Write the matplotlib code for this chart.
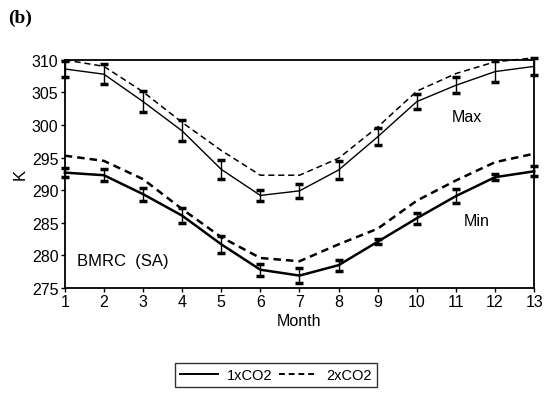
import numpy as np
import matplotlib
matplotlib.use("Agg")
import matplotlib.pyplot as plt
from matplotlib.lines import Line2D

plt.rcParams['font.family'] = ['Liberation Sans', 'DejaVu Sans']

months = np.arange(1, 14)

# daily maximum temperature (K)
max_1x = [308.6, 307.8, 303.6, 299.1, 293.2, 289.2, 289.9, 293.1, 298.2, 303.6, 306.1, 308.2, 309.0]
max_1x_err = [1.3, 1.5, 1.6, 1.6, 1.5, 0.9, 1.1, 1.4, 1.3, 1.2, 1.2, 1.6, 1.3]
max_2x = [310.0, 309.0, 305.1, 300.4, 296.1, 292.3, 292.3, 294.9, 299.7, 305.2, 307.9, 309.7, 310.3]

# daily minimum temperature (K)
min_1x = [292.7, 292.3, 289.4, 286.1, 281.7, 277.8, 276.9, 278.5, 282.1, 285.7, 289.1, 292.0, 292.9]
min_1x_err = [0.65, 0.9, 1.0, 1.1, 1.3, 0.9, 1.1, 0.85, 0.4, 0.85, 1.1, 0.5, 0.75]
min_2x = [295.3, 294.5, 291.7, 287.1, 282.8, 279.6, 279.1, 281.7, 284.1, 288.4, 291.5, 294.3, 295.6]

fig = plt.figure(figsize=(5.49, 4.14), dpi=100)
ax = fig.add_axes([0.118, 0.302, 0.855, 0.551])

eb = dict(fmt='none', ecolor='black', elinewidth=1.0, capsize=3, capthick=2.5, clip_on=False)
ax.plot(months, max_1x, color='black', lw=1.0, clip_on=False)
ax.errorbar(months, max_1x, yerr=max_1x_err, **eb)
ax.plot(months, max_2x, color='black', lw=1.1, ls=(0, (4, 2.5)), clip_on=False)

ax.plot(months, min_1x, color='black', lw=1.8, clip_on=False)
ax.errorbar(months, min_1x, yerr=min_1x_err, **eb)
ax.plot(months, min_2x, color='black', lw=1.8, ls=(0, (3, 2)), clip_on=False)

ax.set_xlim(1, 13)
ax.set_ylim(275, 310)
ax.set_xticks(months)
ax.set_yticks(np.arange(275, 311, 5))
ax.tick_params(direction='out', length=3, width=1, labelsize=11.5, pad=1.5)
for s in ax.spines.values():
    s.set_linewidth(1.3)

ax.set_xlabel('Month', fontsize=11.5, labelpad=3)
ax.set_ylabel('K', fontsize=12, labelpad=3)

ax.text(11.28, 301.3, 'Max', fontsize=11.5, ha='center', va='center')
ax.text(11.53, 285.3, 'Min', fontsize=11.5, ha='center', va='center')
ax.text(1.31, 279.2, 'BMRC  (SA)', fontsize=12, ha='left', va='center')

fig.text(0.014, 0.955, '(b)', fontsize=14, fontweight='bold', family='Liberation Serif',
         ha='left', va='center')

handles = [Line2D([], [], color='black', lw=1.4),
           Line2D([], [], color='black', lw=1.4, ls=(0, (3, 2)))]
leg = fig.legend(handles, ['1xCO2', '2xCO2'], loc='center', bbox_to_anchor=(0.502, 0.092),
                 ncol=2, frameon=True, fancybox=False, edgecolor='black', fontsize=10.5,
                 handlelength=2.6, columnspacing=0.5, handletextpad=0.6, borderpad=0.35)
leg.get_frame().set_linewidth(1.0)

fig.savefig('out.png', dpi=100)
